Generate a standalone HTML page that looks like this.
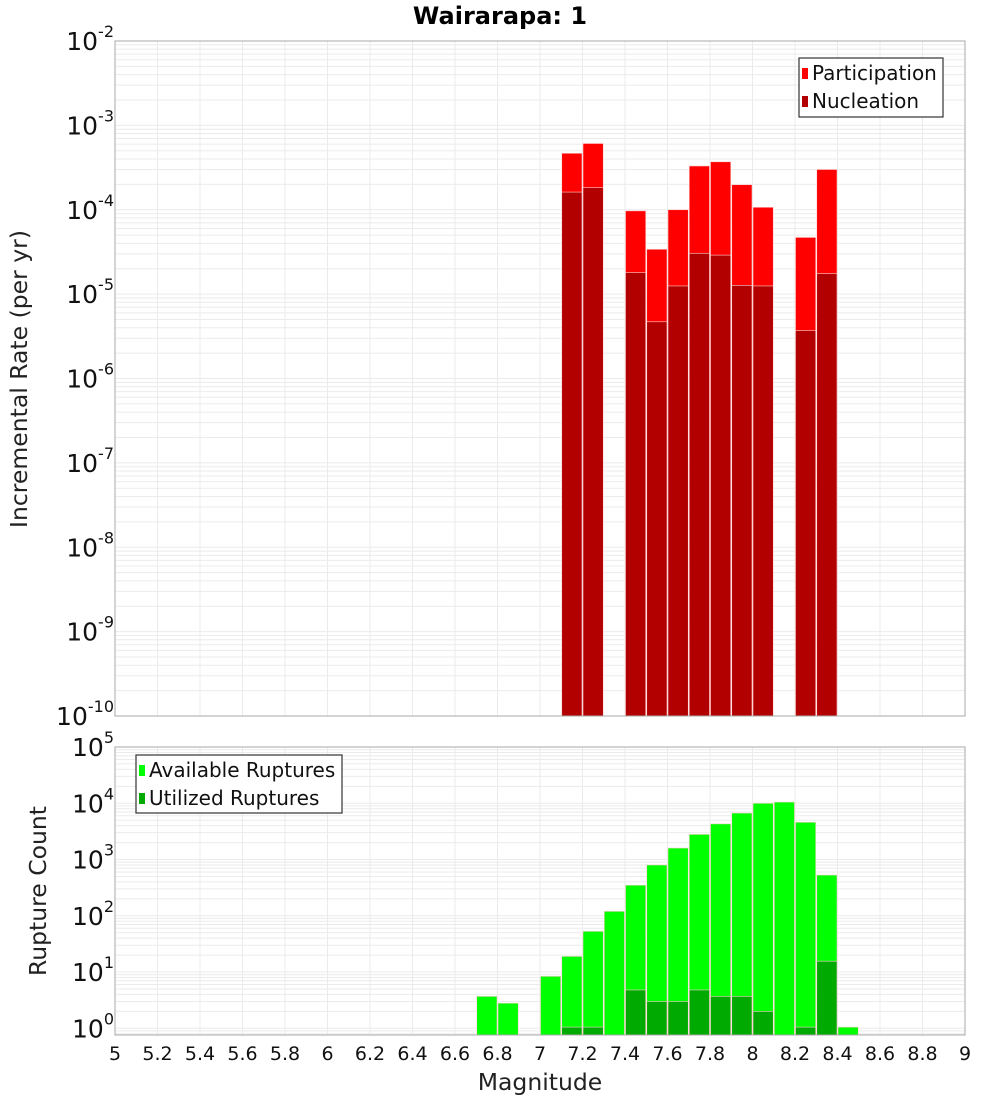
<!DOCTYPE html>
<html><head><meta charset="utf-8"><style>
body{margin:0;background:#fff;}
svg{display:block;font-family:"DejaVu Sans","Liberation Sans",sans-serif;}
</style></head><body>
<svg id="c" width="1000" height="1100" xmlns="http://www.w3.org/2000/svg"></svg>
<script>
const xTicks=[5,5.2,5.4,5.6,5.8,6,6.2,6.4,6.6,6.8,7,7.2,7.4,7.6,7.8,8,8.2,8.4,8.6,8.8,9];
const xTickLabels=["5","5.2","5.4","5.6","5.8","6","6.2","6.4","6.6","6.8","7","7.2","7.4","7.6","7.8","8","8.2","8.4","8.6","8.8","9"];
const rateMags=[7.15,7.25,7.45,7.55,7.65,7.75,7.85,7.95,8.05,8.25,8.35];
const participation=[4.67e-4,6.1e-4,9.7e-5,3.4e-5,1.0e-4,3.3e-4,3.7e-4,1.98e-4,1.07e-4,4.7e-5,3.0e-4];
const nucleation=[1.62e-4,1.83e-4,1.8e-5,4.7e-6,1.25e-5,3.05e-5,2.9e-5,1.27e-5,1.25e-5,3.7e-6,1.75e-5];
const availMags=[6.75,6.85,7.05,7.15,7.25,7.35,7.45,7.55,7.65,7.75,7.85,7.95,8.05,8.15,8.25,8.35,8.45];
const available=[3.7,2.8,8.4,19,53,120,350,800,1600,2800,4300,6700,10000,10500,4600,530,1.05];
const utilMags=[7.15,7.25,7.45,7.55,7.65,7.75,7.85,7.95,8.05,8.25,8.35];
const utilized=[1.05,1.05,4.8,3,3,4.8,3.7,3.7,2,1.05,15.6];
const topExps=[-10,-9,-8,-7,-6,-5,-4,-3,-2];
const botExps=[0,1,2,3,4,5];

const NS="http://www.w3.org/2000/svg";
const svgRoot=document.getElementById('c');
function el(tag,attrs,parent,text){const e=document.createElementNS(NS,tag);for(const k in attrs)e.setAttribute(k,attrs[k]);if(text!==undefined)e.textContent=text;(parent||svgRoot).appendChild(e);return e;}
const X0=115,X1=965;
const xs=m=>X0+(m-5)/4*(X1-X0);
const topP={y0:41,y1:716,lmin:-10,lmax:-2};
const botP={y0:747,y1:1035,lmin:Math.log10(0.76),lmax:5.0};
function ys(p,v){const l=Math.log10(v);return p.y1-(l-p.lmin)/(p.lmax-p.lmin)*(p.y1-p.y0);}

function panel(p,name){
  const g=el('g',{},svgRoot);
  
  
  const grid=el('g',{stroke:'#ebebeb','stroke-width':1},g);
  
  
  for(let e=Math.floor(p.lmin);e<=p.lmax;e++){for(let k=1;k<10;k++){const v=k*Math.pow(10,e);const l=Math.log10(v);if(l<p.lmin||l>p.lmax)continue;const y=ys(p,v);el('line',{x1:X0,x2:X1,y1:y,y2:y},grid);}}
  xTicks.forEach(t=>{const x=xs(t);el('line',{x1:x,x2:x,y1:p.y0,y2:p.y1},grid);});
  return g;
}
function frame(p,g){const r=el('rect',{x:X0,y:p.y0,width:X1-X0,height:p.y1-p.y0,fill:'none',stroke:'#a8a8a8','stroke-width':1},g);}
function bars(p,g,mags,vals,color,name){
  mags.forEach((m,i)=>{const xa=xs(m-0.05),xb=xs(m+0.05);const y=ys(p,vals[i]);
    const r=el('rect',{x:xa+0.5,y:y,width:xb-xa-1,height:p.y1-y,fill:color,stroke:'#ffd0d0','stroke-width':0.6},g);
    
    });
}
function yLabels(p,g,exps){
  exps.forEach(e=>{const y=ys(p,Math.pow(10,e));
    const t=el('text',{x:114,y:y+9,'text-anchor':'end','font-size':25,fill:'#111'},g);
    
    
    el('tspan',{},t,'10');el('tspan',{dy:-13,'font-size':16},t,String(e));});
}
const gt=panel(topP,'rate-panel');
bars(topP,gt,rateMags,participation,'#ff0000','participation');
bars(topP,gt,rateMags,nucleation,'#b20000','nucleation');
frame(topP,gt);
yLabels(topP,gt,topExps);
const gb=panel(botP,'count-panel');
bars(botP,gb,availMags,available,'#00ff00','available');
bars(botP,gb,utilMags,utilized,'#00aa00','utilized');
frame(botP,gb);
yLabels(botP,gb,botExps);
xTicks.forEach((t,i)=>{const tx=el('text',{x:xs(t),y:1060,'text-anchor':'middle','font-size':19,fill:'#111'});
  
  
  tx.textContent=xTickLabels[i];});
let t=el('text',{x:500,y:24,'text-anchor':'middle','font-size':24,'font-weight':'bold',fill:'#000'},svgRoot,'Wairarapa: 1');

t=el('text',{x:540,y:1090,'text-anchor':'middle','font-size':23.5,fill:'#222'},svgRoot,'Magnitude');

t=el('text',{x:0,y:0,'text-anchor':'middle','font-size':23.5,fill:'#222',transform:'translate(27,379) rotate(-90)'},svgRoot,'Incremental Rate (per yr)');

t=el('text',{x:0,y:0,'text-anchor':'middle','font-size':23.5,fill:'#222',transform:'translate(46,891) rotate(-90)'},svgRoot,'Rupture Count');

function legend(x,y,w,h,items,name){
  const g=el('g',{},svgRoot);
  
  
  el('rect',{x:x,y:y,width:w,height:h,fill:'#fff',stroke:'#333','stroke-width':1.2},g);
  items.forEach((it,i)=>{const cy=y+15+i*28;
    el('rect',{x:x+3,y:cy-5,width:6,height:11,fill:it[1]},g);
    const tx=el('text',{x:x+13,y:cy+7,'font-size':20,fill:'#111'},g,it[0]);
    
    });
}
legend(799,58,144,59,[['Participation','#ff0000'],['Nucleation','#b20000']],'rate-legend');
legend(136,755,206,58,[['Available Ruptures','#00ff00'],['Utilized Ruptures','#00aa00']],'count-legend');
</script>
</body></html>
